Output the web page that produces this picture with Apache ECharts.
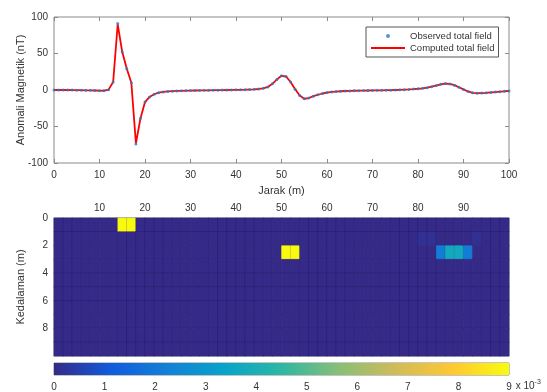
<!DOCTYPE html>
<html>
<head>
<meta charset="utf-8">
<script src="https://cdn.jsdelivr.net/npm/echarts@6/dist/echarts.min.js"></script>
<style>
  html, body { margin: 0; padding: 0; background: #fff; }
  #chart { width: 547px; height: 392px; }
</style>
</head>
<body>
<div id="chart"></div>
<script>
// distance along profile (m), one station per metre
const jarak = Array.from({ length: 101 }, (_, i) => i);

// observed total field (nT)
const observed = [
  0, 0, 0, 0, -0.1, -0.2, -0.3, -0.4, -0.5, -0.7,
  -0.9, -1.0, 0.5, 11, 91, 52, 29, 10, -74, -39,
  -16.5, -9.5, -5.8, -3.6, -2.6, -2.0, -1.6, -1.3, -1.1, -0.9,
  -0.8, -0.7, -0.6, -0.5, -0.4, -0.3, -0.2, -0.1, 0, 0.1,
  0.2, 0.3, 0.4, 0.6, 0.9, 1.4, 2.3, 4.2, 8.5, 14.5,
  19.5, 18.5, 11, 1, -7.5, -12, -11, -8.5, -6.5, -4.8,
  -3.5, -2.7, -2.1, -1.7, -1.4, -1.2, -1.0, -0.9, -0.8, -0.7,
  -0.6, -0.5, -0.4, -0.3, -0.2, 0, 0.2, 0.5, 0.8, 1.2,
  1.7, 2.3, 3.2, 4.5, 6.0, 7.8, 8.8, 8.3, 6.6, 3.8,
  0.8, -2.0, -3.8, -4.4, -4.2, -3.8, -3.3, -2.8, -2.3, -1.8,
  -1.3
];

// computed total field (nT) - sits right on top of the observed values
const computed = [
  0, 0, 0, 0, -0.1, -0.2, -0.3, -0.4, -0.5, -0.7,
  -0.9, -1.0, 0.5, 11, 90, 52, 29, 10, -73, -39,
  -16.5, -9.5, -5.8, -3.6, -2.6, -2.0, -1.6, -1.3, -1.1, -0.9,
  -0.8, -0.7, -0.6, -0.5, -0.4, -0.3, -0.2, -0.1, 0, 0.1,
  0.2, 0.3, 0.4, 0.6, 0.9, 1.4, 2.3, 4.2, 8.5, 14.5,
  19.5, 18.5, 11, 1, -7.5, -12, -11, -8.5, -6.5, -4.8,
  -3.5, -2.7, -2.1, -1.7, -1.4, -1.2, -1.0, -0.9, -0.8, -0.7,
  -0.6, -0.5, -0.4, -0.3, -0.2, 0, 0.2, 0.5, 0.8, 1.2,
  1.7, 2.3, 3.2, 4.5, 6.0, 7.8, 8.8, 8.3, 6.6, 3.8,
  0.8, -2.0, -3.8, -4.4, -4.2, -3.8, -3.3, -2.8, -2.3, -1.8,
  -1.3
];

// susceptibility model: 50 columns of 2 m, 10 rows of 1 m
const nCols = 50;
const nRows = 10;
const colLabels = Array.from({ length: nCols }, (_, i) => String(i * 2 + 1));
const rowLabels = Array.from({ length: nRows }, (_, i) => String(i + 0.5));
// non-zero cells: [column, row, value]
const anomalyCells = [
  [7, 0, 0.009], [8, 0, 0.009],
  [25, 2, 0.009], [26, 2, 0.009],
  [40, 1, 0.00015], [41, 1, 0.00015], [46, 1, 0.00015],
  [42, 2, 0.0021], [43, 2, 0.0037], [44, 2, 0.0037], [45, 2, 0.0021]
];

const colorbarTicks = [0, 1, 2, 3, 4, 5, 6, 7, 8, 9];

const parula = ['#352a87', '#0f5cdd', '#1481d6', '#06a4ca', '#2eb7a4',
  '#87bf77', '#d1bb59', '#fec832', '#f9fb0e'];

const cells = [];
for (let c = 0; c < nCols; c++) {
  for (let r = 0; r < nRows; r++) cells.push([c, r, 0]);
}
anomalyCells.forEach(a => { cells[a[0] * nRows + a[1]] = a; });

const txt = '#333';
const frame = '#8a8a8a';
const font = 'Liberation Sans, Arial, sans-serif';

const chart = echarts.init(document.getElementById('chart'));

const option = {
  animation: false,
  textStyle: { fontFamily: font, color: txt },
  legend: {
    data: [
      { name: 'Observed total field' },
      { name: 'Computed total field', itemStyle: { opacity: 0 } }
    ],
    orient: 'vertical',
    left: 366,
    top: 27,
    itemWidth: 34,
    itemHeight: 4,
    itemGap: 2,
    padding: [4, 4, 4, 4],
    borderColor: '#555',
    borderWidth: 1,
    backgroundColor: '#fff',
    selectedMode: false,
    textStyle: { fontSize: 9.5, color: txt }
  },
  grid: [
    { left: 54, right: 38, top: 17, height: 146, show: true, borderColor: frame, borderWidth: 1 },
    { left: 54, right: 38, top: 218, height: 138, show: true, borderColor: frame, borderWidth: 1 },
    { left: 54, right: 38, top: 363, height: 12, show: true, borderColor: frame, borderWidth: 1 }
  ],
  visualMap: {
    show: false,
    seriesIndex: 2,
    min: 0,
    max: 0.009,
    inRange: { color: parula }
  },
  xAxis: [
    {
      gridIndex: 0, type: 'value', position: 'bottom', min: 0, max: 100, interval: 10,
      name: 'Jarak (m)', nameLocation: 'middle', nameGap: 22, nameMoveOverlap: false,
      nameTextStyle: { fontSize: 11, color: txt },
      axisLine: { show: false, onZero: false },
      axisTick: { inside: true, length: 4, lineStyle: { color: frame } },
      axisLabel: { fontSize: 10, color: txt, margin: 7 },
      splitLine: { show: false }
    },
    {
      gridIndex: 0, type: 'value', position: 'top', min: 0, max: 100, interval: 10,
      axisLine: { show: false, onZero: false },
      axisTick: { inside: true, length: 4, lineStyle: { color: frame } },
      axisLabel: { show: false },
      splitLine: { show: false }
    },
    {
      gridIndex: 1, type: 'category', position: 'bottom', data: colLabels, show: false
    },
    {
      gridIndex: 1, type: 'value', position: 'top', min: 0, max: 100, interval: 10,
      axisLine: { show: false, onZero: false },
      axisTick: { show: false },
      axisLabel: { fontSize: 10, color: txt, margin: 5, showMinLabel: false, showMaxLabel: false },
      splitLine: { show: false }
    },
    {
      gridIndex: 2, type: 'value', position: 'bottom', min: 0, max: 9, interval: 1,
      name: '{a|x 10}{b|-3}', nameLocation: 'end', nameGap: 3,
      nameTextStyle: {
        padding: [22, 0, 0, 0],
        rich: {
          a: { fontSize: 10, color: txt },
          b: { fontSize: 7, color: txt, verticalAlign: 'top', padding: [0, 0, 8, 0] }
        }
      },
      axisLine: { show: false, onZero: false },
      axisTick: { inside: true, length: 3, lineStyle: { color: '#444' } },
      axisLabel: { fontSize: 10, color: txt, margin: 7 },
      splitLine: { show: false }
    }
  ],
  yAxis: [
    {
      gridIndex: 0, type: 'value', position: 'left', min: -100, max: 100, interval: 50,
      name: 'Anomali Magnetik (nT)', nameLocation: 'middle', nameGap: 28, nameMoveOverlap: false,
      nameTextStyle: { fontSize: 11, color: txt },
      axisLine: { show: false, onZero: false },
      axisTick: { inside: true, length: 4, lineStyle: { color: frame } },
      axisLabel: { fontSize: 10, color: txt, margin: 6 },
      splitLine: { show: false }
    },
    {
      gridIndex: 0, type: 'value', position: 'right', min: -100, max: 100, interval: 50,
      axisLine: { show: false, onZero: false },
      axisTick: { inside: true, length: 4, lineStyle: { color: frame } },
      axisLabel: { show: false },
      splitLine: { show: false }
    },
    {
      gridIndex: 1, type: 'category', position: 'right', data: rowLabels, inverse: true, show: false
    },
    {
      gridIndex: 1, type: 'value', position: 'left', inverse: true, min: 0, max: 10, interval: 2,
      name: 'Kedalaman (m)', nameLocation: 'middle', nameGap: 28, nameMoveOverlap: false,
      nameTextStyle: { fontSize: 11, color: txt },
      axisLine: { show: false, onZero: false },
      axisTick: { show: false },
      axisLabel: { fontSize: 10, color: txt, margin: 6, showMaxLabel: false },
      splitLine: { show: false }
    },
    {
      gridIndex: 2, type: 'category', data: ['cb'], show: false
    }
  ],
  series: [
    {
      name: 'Computed total field',
      type: 'line',
      xAxisIndex: 0, yAxisIndex: 0,
      data: jarak.map((x, i) => [x, computed[i]]),
      symbol: 'none',
      lineStyle: { color: '#ff0000', width: 1.8 },
      itemStyle: { color: '#ff0000' },
      z: 3
    },
    {
      name: 'Observed total field',
      type: 'scatter',
      xAxisIndex: 0, yAxisIndex: 0,
      data: jarak.map((x, i) => [x, observed[i]]),
      symbolSize: 3,
      itemStyle: { color: '#2c7bbf' },
      z: 4
    },
    {
      type: 'heatmap',
      xAxisIndex: 2, yAxisIndex: 2,
      data: cells,
      itemStyle: { borderColor: 'rgba(20,15,70,0.3)', borderWidth: 0.5 },
      emphasis: { disabled: true },
      silent: true
    },
    {
      type: 'bar',
      xAxisIndex: 4, yAxisIndex: 4,
      data: [colorbarTicks[colorbarTicks.length - 1]],
      barWidth: '100%',
      silent: true,
      itemStyle: {
        color: new echarts.graphic.LinearGradient(0, 0, 1, 0,
          parula.map((c, i) => ({ offset: i / (parula.length - 1), color: c })))
      }
    }
  ]
};

chart.setOption(option);
</script>
</body>
</html>
